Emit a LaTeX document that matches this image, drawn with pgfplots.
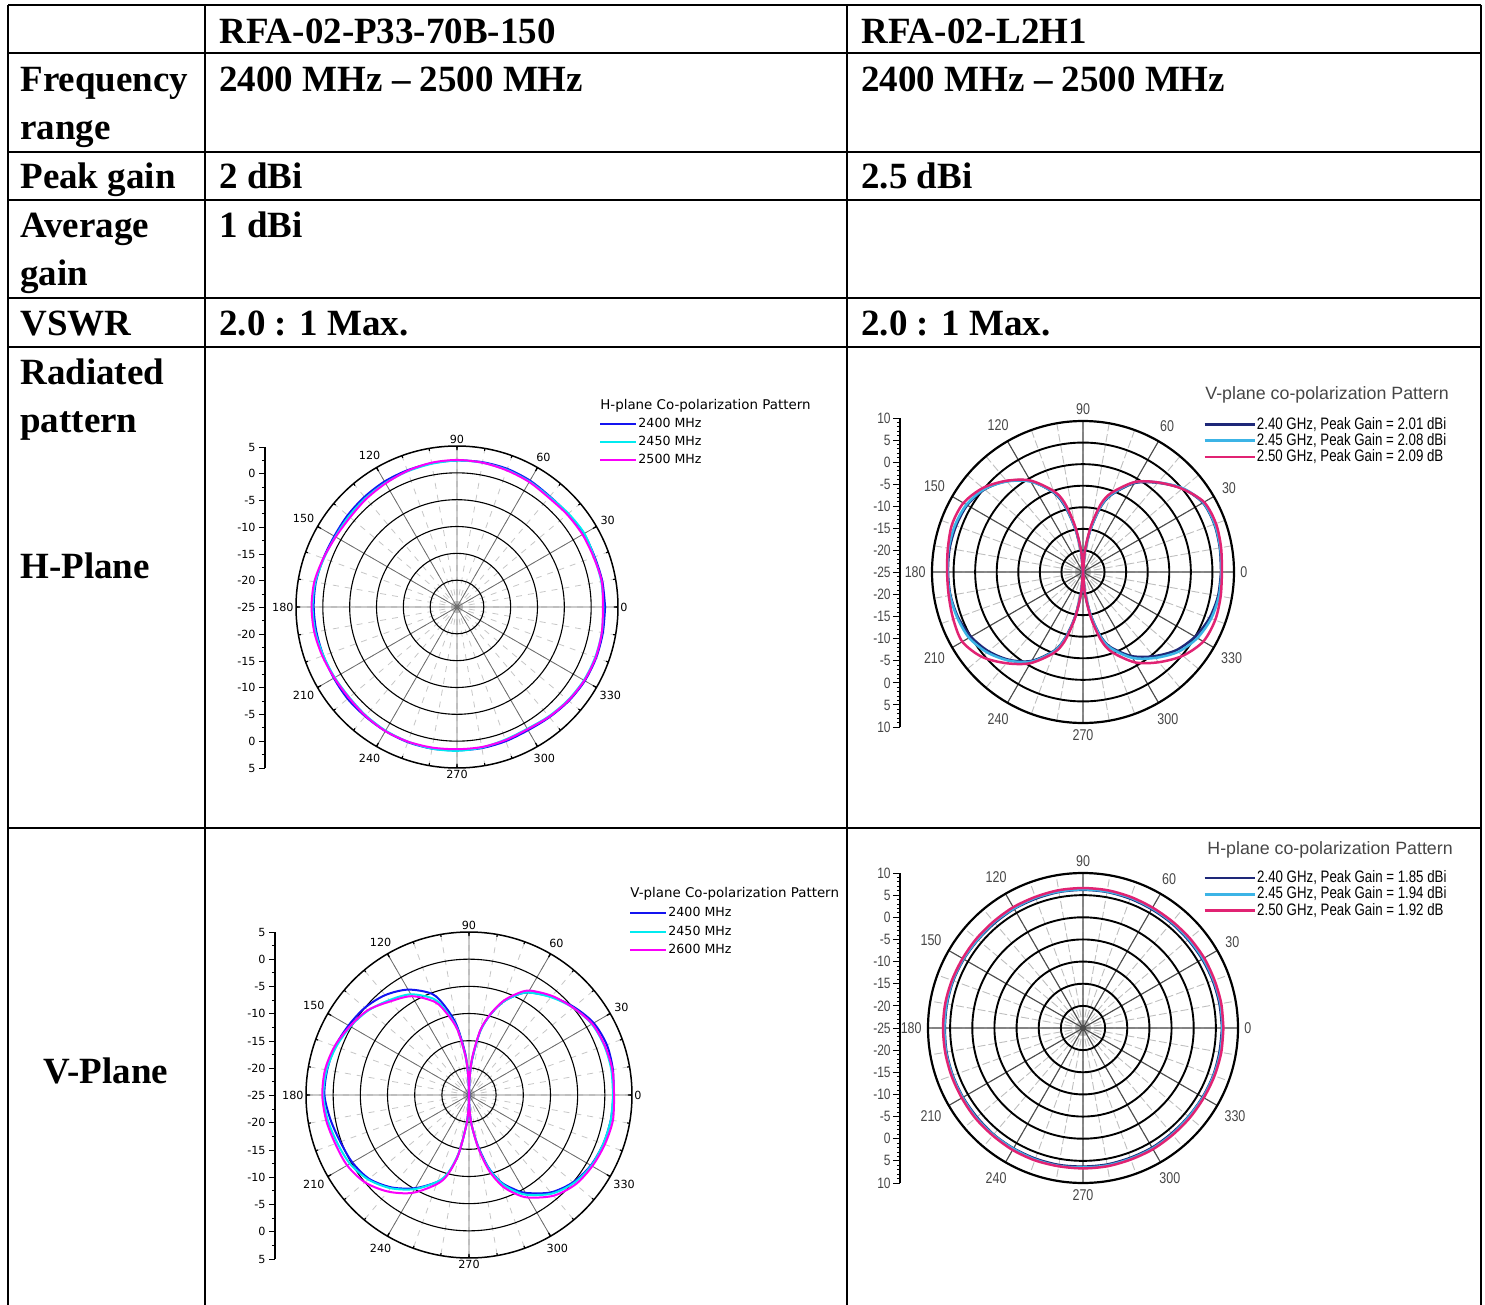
\documentclass[border=0pt]{standalone}
\usepackage{fontspec}
\setmainfont{Liberation Serif}
\newfontfamily\plotfont{DejaVu Sans}
\newfontfamily\narrowfont[FakeStretch=0.8]{Liberation Sans}
\newfontfamily\titlefont{Liberation Sans}
\usepackage{pgfplots}
\usepackage{pgfplotstable}
\pgfplotsset{compat=1.18}
\usepgfplotslibrary{polar}

\definecolor{oblue}{RGB}{20,20,240}
\definecolor{ocyan}{RGB}{0,235,240}
\definecolor{omag}{RGB}{250,0,250}
\definecolor{hnavy}{RGB}{30,40,120}
\definecolor{hlblue}{RGB}{60,180,230}
\definecolor{hpink}{RGB}{225,35,115}
\definecolor{lbl}{RGB}{70,70,70}

% H-plane, RFA-02-P33-70B-150 (dB): a angle, b 2400, c 2450, d 2500
\pgfplotstableread{
a b c d
0 2.6 2.3 2.2
10 2.5 2.3 2.4
20 2.3 2.2 2.1
30 2.3 2.4 2.0
40 2.0 2.1 1.8
50 1.9 1.8 1.6
60 2.2 2.0 1.9
70 2.4 2.2 2.1
80 2.4 2.3 2.3
90 2.3 2.3 2.4
100 2.2 2.1 2.3
110 2.1 1.9 2.0
120 2.0 1.7 1.6
130 1.8 1.5 1.3
140 1.6 1.3 1.0
150 1.4 1.2 1.1
160 1.5 1.4 1.5
170 1.7 1.8 2.0
180 1.7 1.9 2.1
190 1.6 1.8 2.0
200 1.5 1.5 1.7
210 1.5 1.3 1.4
220 1.6 1.2 1.3
230 1.6 1.4 1.5
240 1.7 1.6 1.7
250 1.8 1.7 1.7
260 1.8 1.8 1.6
270 1.7 1.8 1.5
280 1.7 1.6 1.5
290 1.6 1.3 1.4
300 1.5 1.2 1.3
310 1.8 1.6 1.7
320 2.2 2.0 2.1
330 2.5 2.3 2.4
340 2.6 2.4 2.5
350 2.6 2.4 2.4
360 2.6 2.3 2.2
}\tabA

% V-plane, RFA-02-L2H1 (dB): b 2.40, c 2.45, d 2.50 GHz
\pgfplotstableread{
a b c d
0 7.0 7.1 7.2
10 7.2 7.3 7.5
20 7.4 7.5 7.8
30 7.1 7.2 7.4
40 5.1 5.2 5.0
50 2.0 2.1 2.1
60 -1.2 -1.0 -0.9
70 -6.0 -5.8 -5.4
75 -9.5 -9.2 -8.5
80 -15.0 -14.8 -14.0
85 -20.5 -20.3 -20.0
90 -25 -25 -25
95 -20.5 -20.3 -20.0
100 -15.0 -14.8 -14.0
105 -9.5 -9.0 -8.3
110 -5.5 -5.3 -5.0
120 -0.7 -0.8 -0.5
130 2.5 2.4 2.6
140 4.8 4.9 5.3
150 6.0 6.2 7.0
160 6.3 6.6 7.3
170 6.4 6.6 6.8
180 6.3 6.4 6.5
190 6.2 6.3 6.6
200 5.8 6.0 7.0
210 5.0 5.5 7.3
220 3.6 4.0 5.6
230 1.6 1.8 2.6
240 -1.2 -1.0 -0.6
250 -5.6 -5.4 -5.0
255 -9.2 -9.0 -8.3
260 -14.5 -14.3 -14.0
265 -20.5 -20.3 -20.0
270 -25 -25 -25
275 -20.5 -20.3 -20.0
280 -15.0 -14.8 -14.0
285 -9.8 -9.5 -8.5
290 -6.5 -6.2 -5.2
300 -2.5 -2.0 -0.8
310 0.5 1.0 2.3
320 3.2 3.8 5.2
330 5.0 5.6 7.2
340 6.2 6.6 7.6
350 6.8 7.0 7.4
360 7.0 7.1 7.2
}\tabB

% V-plane, RFA-02-P33-70B-150 (dB): b 2400, c 2450, d 2600
\pgfplotstableread{
a b c d
0 1.6 1.5 1.7
10 1.9 1.6 1.8
20 2.0 1.5 1.6
30 1.5 1.1 1.2
40 0.2 0.0 0.0
50 -1.4 -1.5 -1.2
60 -3.2 -3.2 -2.8
65 -4.8 -4.8 -4.5
70 -6.8 -6.8 -6.6
75 -9.6 -9.6 -9.5
80 -13.0 -13.0 -12.8
85 -18.5 -18.2 -18.0
88 -22.0 -22.0 -22.0
90 -25 -25 -25
92 -22.0 -22.0 -22.0
95 -17.5 -18.0 -18.0
100 -12.0 -12.6 -12.8
105 -8.2 -9.2 -9.6
110 -5.2 -6.2 -6.8
120 -2.6 -3.6 -4.0
130 -1.0 -2.2 -2.5
140 0.0 -0.8 -0.7
150 0.6 0.2 0.3
160 1.2 1.0 1.3
170 1.5 1.6 1.9
180 1.6 1.8 2.0
190 0.9 1.4 1.7
200 0.2 0.8 1.2
210 -0.2 0.3 0.9
220 -1.0 -0.8 0.0
230 -2.8 -2.6 -1.8
240 -5.2 -5.0 -4.2
250 -8.0 -8.0 -7.5
255 -10.0 -10.2 -9.8
260 -14.0 -14.2 -14.0
265 -19.5 -19.5 -19.5
268 -22.5 -22.5 -22.5
270 -25 -25 -25
272 -22.5 -22.5 -22.5
275 -19.5 -19.5 -19.5
280 -15.5 -15.2 -15.0
285 -11.2 -11.0 -10.5
290 -8.0 -7.8 -7.2
295 -6.0 -5.6 -5.0
300 -4.2 -3.8 -3.2
310 -1.6 -1.3 -0.8
320 0.0 0.2 0.6
330 0.9 1.0 1.2
340 1.3 1.3 1.6
350 1.5 1.5 1.9
360 1.6 1.5 1.7
}\tabC

% H-plane, RFA-02-L2H1 (dB): b 2.40, c 2.45, d 2.50 GHz
\pgfplotstableread{
a b c d
0 6.4 6.5 6.7
10 6.3 6.5 6.7
20 6.2 6.4 6.6
30 6.1 6.3 6.6
40 6.0 6.2 6.5
50 6.0 6.2 6.4
60 6.0 6.2 6.4
70 6.1 6.3 6.5
80 6.2 6.3 6.6
90 6.2 6.3 6.6
100 6.2 6.3 6.6
110 6.1 6.3 6.5
120 6.1 6.2 6.5
130 6.0 6.2 6.4
140 6.0 6.1 6.4
150 6.1 6.2 6.4
160 6.2 6.3 6.5
170 6.2 6.3 6.6
180 6.2 6.3 6.6
190 6.3 6.4 6.6
200 6.3 6.4 6.6
210 6.3 6.4 6.6
220 6.3 6.5 6.7
230 6.4 6.5 6.7
240 6.4 6.5 6.8
250 6.4 6.6 6.8
260 6.4 6.6 6.7
270 6.3 6.5 6.7
280 6.3 6.5 6.7
290 6.2 6.4 6.6
300 6.2 6.4 6.6
310 6.1 6.3 6.5
320 6.1 6.2 6.5
330 6.2 6.3 6.5
340 6.3 6.4 6.6
350 6.3 6.5 6.7
360 6.4 6.5 6.7
}\tabD

\pgfplotsset{
  scalebase/.style={scale only axis, width=1pt, xmin=0, xmax=1,
    hide x axis, axis y line*=left, y axis line style={-, line width=0.6pt},
    tick align=outside, ytick style={black, line width=0.5pt},
    major tick length=3pt, minor tick length=1.6pt},
  scaleA/.style={scalebase, ymin=-30, ymax=30, ytick={-30,-25,...,30},
    yticklabels={5,0,-5,-10,-15,-20,-25,-20,-15,-10,-5,0,5}, minor y tick num=1,
    yticklabel style={font=\plotfont\fontsize{5.6}{6}\selectfont, inner sep=1.5pt}},
  scaleB/.style={scalebase, ymin=-35, ymax=35, ytick={-35,-30,...,35},
    yticklabels={10,5,0,-5,-10,-15,-20,-25,-20,-15,-10,-5,0,5,10}, minor y tick num=4,
    major tick length=3.5pt, minor tick length=1.6pt,
    yticklabel style={font=\narrowfont\fontsize{7.5}{8}\selectfont, text=lbl, inner sep=1pt}},
  polarA/.style={scale only axis, anchor=center,
    ymin=0, ymax=30, ytick={5,10,...,25}, yticklabels={}, ytick style={draw=none},
    xtick={0,30,...,330}, xticklabels={0,30,60,90,120,150,180,210,240,270,300,330},
    minor xtick={0,10,...,350}, grid=both,
    major x grid style={gray!85!black, line width=0.4pt},
    minor x grid style={gray!45, dash pattern=on 3pt off 3pt, line width=0.4pt},
    major y grid style={black, line width=0.55pt},
    axis line style={black, line width=0.75pt},
    y axis line style={draw=none},
    xtick style={black, line width=0.6pt}, tick align=outside,
    major tick length=2pt, minor tick length=1.2pt,
    xticklabel style={font=\plotfont\fontsize{5.6}{6}\selectfont, inner sep=3pt},
    legend cell align=left,
    legend image code/.code={\draw[##1] (0pt,0pt) -- (18pt,0pt);},
    title style={anchor=west, inner sep=0pt, yshift=-15.5pt, font=\plotfont\fontsize{6.7}{7}\selectfont},
    every axis plot/.append style={line width=1pt, smooth, tension=0.5}},
  polarB/.style={scale only axis, anchor=center,
    ymin=0, ymax=35, ytick={5,10,...,30}, yticklabels={}, ytick style={draw=none},
    xtick={0,30,...,330}, xticklabels={0,30,60,90,120,150,180,210,240,270,300,330},
    minor xtick={0,10,...,350}, grid=both,
    major x grid style={gray!60!black, line width=0.55pt},
    minor x grid style={gray!50, dash pattern=on 4pt off 1.5pt, line width=0.45pt},
    major y grid style={black, line width=0.95pt},
    axis line style={black, line width=1.1pt},
    y axis line style={draw=none},
    xtick style={draw=none},
    xticklabel style={font=\narrowfont\fontsize{7.8}{8}\selectfont, text=lbl, inner sep=3pt},
    legend cell align=left,
    legend image code/.code={\draw[##1] (0pt,0pt) -- (25pt,0pt);},
    title style={anchor=west, inner sep=0pt, yshift=-15.5pt, text=lbl, font=\titlefont\fontsize{8.9}{10}\selectfont},
    every axis plot/.append style={line width=1.25pt, smooth, tension=0.5}},
}

\begin{document}
\begin{tikzpicture}
\path[use as bounding box] (0,0) rectangle (742.5pt,-652.5pt);

% ---------- table grid ----------
\begin{scope}[line width=1pt, black]
\foreach \yy in {2.5,26.5,76,100,149,173.5,414}
  \draw (4pt,-\yy pt) -- (740.5pt,-\yy pt);
\foreach \xx in {4,102.5,423.5,740.5}
  \draw (\xx pt,-2.5pt) -- (\xx pt,-653pt);
\end{scope}

% ---------- table text ----------
\begin{scope}[every node/.style={anchor=base west, inner sep=0pt, font=\bfseries\fontsize{18.5}{22}\selectfont}]
\node at (109.5pt,-22pt) {RFA-02-P33-70B-150};
\node at (430.5pt,-22pt) {RFA-02-L2H1};
\node at (10pt,-46pt) {Frequency};
\node at (10pt,-70pt) {range};
\node at (109.5pt,-46pt) {2400 MHz – 2500 MHz};
\node at (430.5pt,-46pt) {2400 MHz – 2500 MHz};
\node at (10pt,-94.5pt) {Peak gain};
\node at (109.5pt,-94.5pt) {2 dBi};
\node at (430.5pt,-94.5pt) {2.5 dBi};
\node at (10pt,-119pt) {Average};
\node at (10pt,-143pt) {gain};
\node at (109.5pt,-119pt) {1 dBi};
\node at (10pt,-168pt) {VSWR};
\node at (109.5pt,-168pt) {2.0 : 1 Max.};
\node at (430.5pt,-168pt) {2.0 : 1 Max.};
\node at (10pt,-192.5pt) {Radiated};
\node at (10pt,-216.5pt) {pattern};
\node at (10pt,-289pt) {H-Plane};
\node[anchor=base] at (53pt,-541.5pt) {V-Plane};
\end{scope}

% ---------- plot 1: H-plane, RFA-02-P33-70B-150 ----------
\begin{axis}[scaleA, at={(132.5pt,-384pt)}, anchor=south west, height=160.5pt]
\end{axis}
\begin{polaraxis}[polarA, at={(228.5pt,-303.5pt)}, width=161pt, height=161pt,
  title={H-plane Co-polarization Pattern}, title style={at={(0.944,1.133)}},
  legend style={at={(0.922,1.106)}, anchor=north west, draw=none, fill=none,
    font=\plotfont\fontsize{6.3}{7}\selectfont, row sep=1.25pt,
    nodes={inner sep=0.6pt, text height=5pt, text depth=1.5pt}}]
\addplot[oblue] table[x=a, y expr=\thisrow{b}+25] {\tabA};
\addplot[ocyan] table[x=a, y expr=\thisrow{c}+25] {\tabA};
\addplot[omag] table[x=a, y expr=\thisrow{d}+25] {\tabA};
\legend{2400 MHz, 2450 MHz, 2500 MHz}
\end{polaraxis}

% ---------- plot 2: V-plane, RFA-02-L2H1 ----------
\begin{axis}[scaleB, at={(450pt,-363.5pt)}, anchor=south west, height=154.5pt]
\end{axis}
\begin{polaraxis}[polarB, at={(541.5pt,-286pt)}, width=151pt, height=151pt,
  title={V-plane co-polarization Pattern}, title style={at={(0.904,1.093)}},
  legend style={at={(0.877,1.03)}, anchor=north west, draw=none, fill=none,
    font=\narrowfont\fontsize{8.3}{8}\selectfont, row sep=0pt,
    nodes={inner sep=0.6pt, text height=5.8pt, text depth=1.1pt}}]
\addplot[hnavy] table[x=a, y expr=\thisrow{b}+25] {\tabB};
\addplot[hlblue] table[x=a, y expr=\thisrow{c}+25] {\tabB};
\addplot[hpink] table[x=a, y expr=\thisrow{d}+25] {\tabB};
\legend{{2.40 GHz, Peak Gain = 2.01 dBi}, {2.45 GHz, Peak Gain = 2.08 dBi}, {2.50 GHz, Peak Gain = 2.09 dB}}
\end{polaraxis}

% ---------- plot 3: V-plane, RFA-02-P33-70B-150 ----------
\begin{axis}[scaleA, at={(137.5pt,-629.5pt)}, anchor=south west, height=163.5pt]
\end{axis}
\begin{polaraxis}[polarA, at={(234.5pt,-547.5pt)}, width=163pt, height=163pt,
  title={V-plane Co-polarization Pattern}, title style={at={(0.994,1.123)}},
  legend style={at={(0.972,1.094)}, anchor=north west, draw=none, fill=none,
    font=\plotfont\fontsize{6.3}{7}\selectfont, row sep=1.5pt,
    nodes={inner sep=0.6pt, text height=5pt, text depth=1.5pt}}]
\addplot[oblue] table[x=a, y expr=\thisrow{b}+25] {\tabC};
\addplot[ocyan] table[x=a, y expr=\thisrow{c}+25] {\tabC};
\addplot[omag] table[x=a, y expr=\thisrow{d}+25] {\tabC};
\legend{2400 MHz, 2450 MHz, 2600 MHz}
\end{polaraxis}

% ---------- plot 4: H-plane, RFA-02-L2H1 ----------
\begin{axis}[scaleB, at={(450pt,-591.5pt)}, anchor=south west, height=155pt]
\end{axis}
\begin{polaraxis}[polarB, at={(541.5pt,-514pt)}, width=155pt, height=155pt,
  title={H-plane co-polarization Pattern}, title style={at={(0.9,1.081)}},
  legend style={at={(0.868,1.024)}, anchor=north west, draw=none, fill=none,
    font=\narrowfont\fontsize{8.3}{8}\selectfont, row sep=0pt,
    nodes={inner sep=0.6pt, text height=5.8pt, text depth=1.1pt}}]
\addplot[hnavy] table[x=a, y expr=\thisrow{b}+25] {\tabD};
\addplot[hlblue] table[x=a, y expr=\thisrow{c}+25] {\tabD};
\addplot[hpink] table[x=a, y expr=\thisrow{d}+25] {\tabD};
\legend{{2.40 GHz, Peak Gain = 1.85 dBi}, {2.45 GHz, Peak Gain = 1.94 dBi}, {2.50 GHz, Peak Gain = 1.92 dB}}
\end{polaraxis}
\end{tikzpicture}
\end{document}
